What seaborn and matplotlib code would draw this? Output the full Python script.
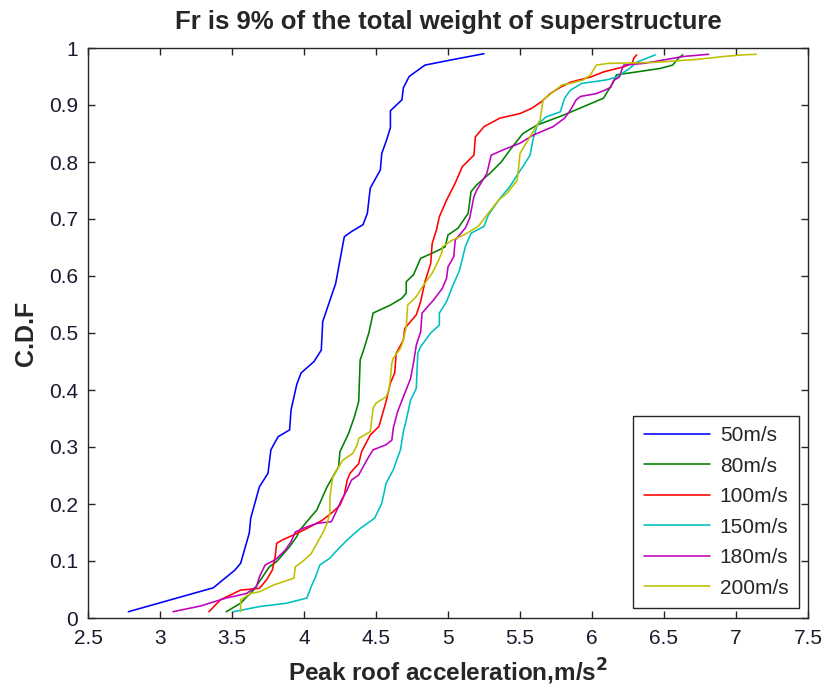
import numpy as np
import pandas as pd
import matplotlib
matplotlib.use("Agg")
import matplotlib.pyplot as plt
from matplotlib.ticker import FuncFormatter
import seaborn as sns

# Empirical CDFs of peak roof acceleration for each wind speed
labels = ["50m/s", "80m/s", "100m/s", "150m/s", "180m/s", "200m/s"]

x_50 = [2.78, 3.37, 3.52, 3.56, 3.62, 3.63, 3.69, 3.75, 3.77, 3.82, 3.90, 3.91,
        3.95, 3.98, 4.07, 4.12, 4.13, 4.22, 4.28, 4.33, 4.41, 4.44, 4.46, 4.53,
        4.54, 4.57, 4.60, 4.60, 4.68, 4.69, 4.73, 4.84, 5.02, 5.25]
y_50 = [0.011, 0.053, 0.084, 0.096, 0.149, 0.175, 0.23, 0.254, 0.295, 0.318, 0.33,
        0.365, 0.41, 0.43, 0.45, 0.47, 0.52, 0.587, 0.669, 0.678, 0.69, 0.71, 0.754,
        0.786, 0.815, 0.836, 0.86, 0.89, 0.909, 0.93, 0.95, 0.97, 0.979, 0.99]

x_80 = [3.46, 3.56, 3.65, 3.76, 3.81, 3.90, 3.95, 3.97, 4.03, 4.09, 4.13, 4.16,
        4.24, 4.25, 4.31, 4.35, 4.38, 4.39, 4.41, 4.45, 4.48, 4.60, 4.68, 4.71,
        4.71, 4.76, 4.81, 4.89, 4.98, 5.00, 5.07, 5.14, 5.16, 5.20, 5.29, 5.37,
        5.43, 5.52, 5.62, 5.80, 5.94, 6.08, 6.15, 6.17, 6.31, 6.47, 6.56, 6.60, 6.63]
y_80 = [0.011, 0.026, 0.049, 0.09, 0.099, 0.125, 0.143, 0.154, 0.172, 0.19, 0.213,
        0.23, 0.265, 0.292, 0.324, 0.353, 0.38, 0.453, 0.467, 0.5, 0.535, 0.549,
        0.561, 0.57, 0.59, 0.602, 0.631, 0.64, 0.651, 0.672, 0.684, 0.71, 0.748,
        0.76, 0.78, 0.80, 0.821, 0.85, 0.865, 0.882, 0.897, 0.912, 0.941, 0.953,
        0.958, 0.964, 0.97, 0.982, 0.988]

x_100 = [3.34, 3.42, 3.56, 3.69, 3.74, 3.78, 3.80, 3.81, 3.85, 3.93, 4.02, 4.13,
         4.20, 4.25, 4.28, 4.30, 4.32, 4.38, 4.40, 4.46, 4.52, 4.54, 4.57, 4.60,
         4.63, 4.64, 4.69, 4.70, 4.78, 4.81, 4.84, 4.88, 4.89, 4.92, 4.94, 4.99,
         5.05, 5.10, 5.18, 5.19, 5.25, 5.36, 5.50, 5.58, 5.65, 5.71, 5.78, 5.85,
         5.99, 6.08, 6.22, 6.28, 6.29, 6.31]
y_100 = [0.011, 0.032, 0.049, 0.052, 0.067, 0.084, 0.108, 0.131, 0.137, 0.146,
         0.157, 0.172, 0.186, 0.198, 0.216, 0.242, 0.254, 0.271, 0.292, 0.321,
         0.336, 0.353, 0.38, 0.412, 0.43, 0.464, 0.488, 0.508, 0.532, 0.555, 0.59,
         0.622, 0.657, 0.681, 0.704, 0.733, 0.763, 0.792, 0.812, 0.844, 0.862,
         0.877, 0.885, 0.894, 0.906, 0.92, 0.931, 0.94, 0.949, 0.958, 0.967,
         0.973, 0.982, 0.988]

x_150 = [3.51, 3.69, 3.88, 4.02, 4.05, 4.08, 4.11, 4.18, 4.23, 4.30, 4.39, 4.49,
         4.54, 4.57, 4.62, 4.67, 4.69, 4.71, 4.74, 4.78, 4.79, 4.81, 4.88, 4.94,
         4.94, 4.99, 5.03, 5.08, 5.12, 5.16, 5.25, 5.28, 5.36, 5.43, 5.48, 5.52,
         5.57, 5.59, 5.62, 5.68, 5.78, 5.81, 5.85, 5.93, 6.10, 6.17, 6.26, 6.31,
         6.38, 6.44]
y_150 = [0.011, 0.02, 0.026, 0.035, 0.055, 0.072, 0.093, 0.105, 0.119, 0.137,
         0.157, 0.175, 0.201, 0.236, 0.26, 0.295, 0.327, 0.347, 0.382, 0.403,
         0.464, 0.476, 0.50, 0.514, 0.535, 0.555, 0.581, 0.61, 0.651, 0.675,
         0.687, 0.707, 0.736, 0.757, 0.777, 0.792, 0.812, 0.839, 0.865, 0.879,
         0.888, 0.912, 0.926, 0.938, 0.944, 0.949, 0.964, 0.975, 0.982, 0.988]

x_180 = [3.09, 3.28, 3.46, 3.60, 3.67, 3.69, 3.73, 3.80, 3.87, 3.91, 3.94, 3.99,
         4.09, 4.19, 4.23, 4.26, 4.30, 4.33, 4.38, 4.41, 4.45, 4.48, 4.57, 4.61,
         4.62, 4.65, 4.69, 4.74, 4.76, 4.78, 4.81, 4.82, 4.90, 4.96, 4.99, 5.00,
         5.04, 5.05, 5.12, 5.15, 5.18, 5.20, 5.27, 5.30, 5.38, 5.50, 5.59, 5.73,
         5.81, 5.85, 5.89, 5.92, 6.03, 6.09, 6.13, 6.15, 6.19, 6.21, 6.22, 6.36,
         6.52, 6.63, 6.81]
y_180 = [0.011, 0.021, 0.035, 0.043, 0.055, 0.072, 0.093, 0.102, 0.119, 0.134,
         0.151, 0.157, 0.166, 0.169, 0.19, 0.207, 0.225, 0.242, 0.251, 0.265,
         0.283, 0.295, 0.304, 0.312, 0.333, 0.362, 0.388, 0.42, 0.447, 0.479,
         0.502, 0.535, 0.558, 0.578, 0.596, 0.616, 0.634, 0.663, 0.684, 0.701,
         0.739, 0.751, 0.78, 0.812, 0.821, 0.833, 0.847, 0.862, 0.877, 0.891,
         0.909, 0.915, 0.92, 0.926, 0.931, 0.943, 0.949, 0.964, 0.97, 0.973,
         0.98, 0.985, 0.989]

x_200 = [3.56, 3.56, 3.63, 3.69, 3.79, 3.93, 3.94, 3.99, 4.05, 4.09, 4.13, 4.16,
         4.18, 4.18, 4.20, 4.24, 4.27, 4.34, 4.37, 4.38, 4.46, 4.47, 4.48, 4.50,
         4.57, 4.59, 4.60, 4.61, 4.62, 4.67, 4.69, 4.71, 4.72, 4.78, 4.83, 4.89,
         4.93, 4.96, 4.96, 5.03, 5.11, 5.21, 5.27, 5.35, 5.41, 5.48, 5.49, 5.50,
         5.64, 5.66, 5.69, 5.79, 5.85, 5.94, 5.99, 6.03, 6.11, 6.31, 6.45, 6.73,
         6.91, 7.05, 7.14]
y_200 = [0.011, 0.032, 0.043, 0.046, 0.058, 0.07, 0.09, 0.099, 0.113, 0.131,
         0.149, 0.166, 0.184, 0.213, 0.248, 0.265, 0.277, 0.289, 0.304, 0.315,
         0.327, 0.347, 0.368, 0.377, 0.388, 0.40, 0.42, 0.447, 0.456, 0.473,
         0.488, 0.511, 0.549, 0.564, 0.584, 0.605, 0.625, 0.643, 0.651, 0.663,
         0.672, 0.687, 0.707, 0.733, 0.745, 0.768, 0.789, 0.815, 0.874, 0.909,
         0.915, 0.935, 0.938, 0.944, 0.953, 0.97, 0.973, 0.974, 0.975, 0.98,
         0.985, 0.988, 0.989]

xs = [x_50, x_80, x_100, x_150, x_180, x_200]
ys = [y_50, y_80, y_100, y_150, y_180, y_200]
colors = ["#0000ff", "#008000", "#ff0000", "#00bfbf", "#bf00bf", "#bfbf00"]

frames = []
for lab, xv, yv in zip(labels, xs, ys):
    frames.append(pd.DataFrame({"acc": xv, "cdf": yv, "speed": lab}))
df = pd.concat(frames, ignore_index=True)

sns.set_style("ticks")
plt.rcParams["font.family"] = ["Liberation Sans", "DejaVu Sans"]
plt.rcParams["xtick.direction"] = "in"
plt.rcParams["ytick.direction"] = "in"

fig = plt.figure(figsize=(8.28, 6.89), dpi=100)
ax = fig.add_axes([88 / 828, 71 / 689, 720 / 828, 570 / 689])

sns.lineplot(data=df, x="acc", y="cdf", hue="speed", hue_order=labels,
             palette=colors, sort=False, estimator=None,
             linewidth=1.15, ax=ax)

ax.set_xlim(2.5, 7.5)
ax.set_ylim(0, 1)
ax.set_xticks(np.arange(2.5, 7.51, 0.5))
ax.set_yticks(np.arange(0, 1.01, 0.1))
fmt = FuncFormatter(lambda v, p: f"{v:g}")
ax.xaxis.set_major_formatter(fmt)
ax.yaxis.set_major_formatter(fmt)
ax.tick_params(axis="both", which="major", labelsize=15, length=5, width=1,
               top=True, right=True, color="#262626", labelcolor="#1a1a2e")
ax.tick_params(axis="x", pad=8)
ax.tick_params(axis="y", pad=7)
for s in ax.spines.values():
    s.set_visible(True)
    s.set_linewidth(1.0)
    s.set_color("#262626")

ax.set_title("Fr is 9% of the total weight of superstructure",
             fontsize=18.5, fontweight="bold", pad=14)
ax.set_xlabel("Peak roof acceleration,m/s$^\\mathbf{2}$", fontsize=17.5,
              fontweight="bold", labelpad=6)
ax.set_ylabel("C.D.F", fontsize=18, fontweight="bold", labelpad=8)

handles, labs = ax.get_legend_handles_labels()
leg = ax.legend(handles, labs, loc="lower right",
                bbox_to_anchor=(0.9875, 0.0175), borderaxespad=0,
                fontsize=15, frameon=True, fancybox=False, framealpha=1,
                edgecolor="#262626", handlelength=3.2, handletextpad=0.45,
                labelspacing=0.55, borderpad=0.5)
leg.get_frame().set_linewidth(1.0)

fig.savefig("out.png", dpi=100, facecolor="white")
